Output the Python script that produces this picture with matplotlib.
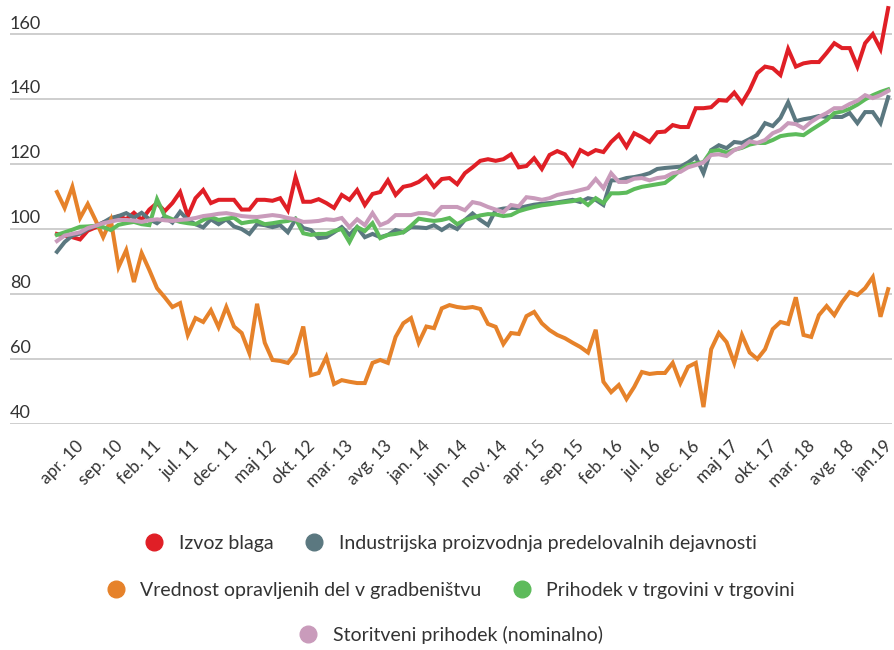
import matplotlib
matplotlib.use('Agg')
import matplotlib.pyplot as plt
from matplotlib.lines import Line2D
from matplotlib.transforms import ScaledTranslation
import numpy as np

plt.rcParams['font.family'] = ['Lato', 'DejaVu Sans']

# monthly index values, jan 2010 - jan 2019 (109 months), labels every 5th month from apr 2010
tick_labels = ['apr. 10', 'sep. 10', 'feb. 11', 'jul. 11', 'dec. 11', 'maj 12', 'okt. 12',
               'mar. 13', 'avg. 13', 'jan. 14', 'jun. 14', 'nov. 14', 'apr. 15', 'sep. 15',
               'feb. 16', 'jul. 16', 'dec. 16', 'maj 17', 'okt. 17', 'mar. 18', 'avg. 18', 'jan.19']

izvoz = [98.5, 98, 97.5, 96.8, 99.5, 100.5, 102, 102.8, 104, 103,
         105, 102.8, 106, 108, 105.5, 108, 111.4, 104, 109.5, 112,
         108, 109, 109, 109, 106, 106, 109, 109, 108.7, 109.5,
         105.8, 116, 108.4, 108.4, 109.2, 108, 106.5, 110.5, 109, 112,
         107.4, 110.8, 111.4, 115, 110.5, 113, 113.5, 114.5, 116.3, 113,
         115.4, 115.7, 113.8, 117.2, 119, 121, 121.5, 121, 121.5, 123,
         119, 119.4, 121.8, 118.5, 122.8, 124, 123, 119.7, 124.3, 123,
         124.3, 123.7, 126.8, 129, 125.3, 129.5, 128.3, 126.8, 129.8, 130,
         132, 131.4, 131.4, 137.2, 137.2, 137.5, 139.7, 139.5, 142, 138.8,
         142.8, 148, 150, 149.5, 147.4, 155.4, 150, 151, 151.4, 151.4,
         154.2, 157.2, 155.7, 155.7, 150, 157.2, 160, 155.4, 168]

industrija = [93, 96, 98, 98.6, 100, 101, 102, 103.4, 104, 104.9,
              103.5, 105, 103, 101.8, 103.7, 102, 105.3, 102.8, 101.5, 100.5,
              103, 101.5, 103, 100.8, 100, 98.5, 101.5, 101.2, 100.6, 101.2,
              99, 103, 100.3, 99.7, 97.2, 97.5, 99, 100.6, 98.2, 100.6,
              97.5, 98.5, 97.5, 98.2, 99.7, 99, 100.6, 100.5, 100.3, 101.2,
              99.7, 101.2, 100, 102.8, 104.8, 102.8, 101.2, 105.8, 106.3, 106.5,
              106.5, 107, 107.5, 107.8, 108, 108.2, 108.6, 109, 108.3, 109.5,
              109, 107.4, 115, 115, 115.7, 116, 116.5, 117.2, 118.5, 118.8,
              119, 119.2, 120.5, 122.2, 117.2, 124.3, 125.8, 124.9, 126.8, 126.5,
              127.7, 129, 132.6, 131.7, 134.2, 139, 133.2, 133.8, 134.2, 134.8,
              134.5, 134.5, 134.5, 135.7, 132.6, 136, 136, 132.6, 140.6]

gradbenistvo = [111.4, 106.5, 113, 103.4, 107.7, 102.8, 97.5, 102.8, 88.3, 93.5,
                83.7, 92.6, 87.4, 81.8, 79, 76, 77.2, 67.4, 72.6, 71.4,
                75, 69.8, 76, 70, 68, 61.8, 77, 65, 59.7, 59.4,
                58.8, 61.8, 70, 55, 55.7, 60.6, 52.3, 53.5, 53, 52.6,
                52.6, 58.8, 59.7, 58.8, 66.8, 71, 72.6, 65, 70, 69.5,
                75.6, 76.6, 76, 75.7, 76, 75.4, 70.8, 69.9, 64.6, 68,
                67.7, 73.2, 74.5, 71, 68.9, 67.4, 66.4, 65, 63.7, 62,
                69, 53, 49.8, 52, 47.7, 51.4, 56, 55.4, 55.7, 55.7,
                58.8, 52.6, 57.6, 58.8, 45.2, 63, 68, 65.2, 58.8, 67.4,
                62, 60, 63, 69.2, 71.4, 70.8, 79, 67.4, 66.8, 73.5,
                76.3, 73.5, 77.5, 80.6, 79.7, 81.8, 85.2, 73, 81.5]

trgovina = [98.2, 99, 99.8, 100.7, 100.8, 101, 100.6, 99.7, 101.3, 101.8,
            102.2, 101.5, 101.2, 109.2, 104, 103, 102.2, 101.8, 101.5, 102.8,
            103.7, 102.8, 103.2, 103.5, 101.8, 102.2, 102.5, 101.5, 101.8, 102.2,
            102.5, 103.2, 98.7, 98.2, 98.5, 98.5, 99.4, 100, 96, 100.6,
            99.4, 101.8, 97.2, 98.2, 98.5, 99, 101, 103.2, 102.8, 102.5,
            102.8, 103.4, 101.5, 102.8, 103.5, 104.2, 104.6, 104.5, 104, 104.3,
            105.5, 106.2, 106.8, 107.3, 107.6, 108, 108.3, 108.6, 109.2, 107.4,
            109.5, 108, 111, 111, 111.2, 112.3, 113, 113.4, 113.8, 114.2,
            116, 118.2, 119.7, 120.2, 120.6, 124, 124.3, 123.5, 124.4, 125,
            126, 126.5, 126.5, 127.4, 128.6, 129, 129.2, 128.9, 130.5, 132,
            133.5, 135.7, 136.2, 137, 138.3, 139.9, 141.2, 142.2, 143]

storitve = [96.3, 98, 98.5, 99, 100.3, 101, 101.8, 102.3, 102.8, 102.8,
            102.6, 102.2, 102.7, 103, 102.7, 102.5, 102.8, 103, 103.4, 104,
            104.3, 104.7, 104.9, 104.5, 104, 103.8, 103.7, 104, 104.3, 104,
            103.4, 103, 102.2, 102.3, 102.5, 103, 102.8, 103.4, 100.6, 103,
            101.2, 104.9, 101.2, 102.2, 104.3, 104.3, 104.3, 104.9, 104.9, 104.3,
            106.8, 106.8, 106.8, 105.8, 108.3, 107.8, 106.8, 106, 105.2, 107.4,
            107, 109.8, 109.5, 109, 109.5, 110.5, 111, 111.4, 112, 112.6,
            115.4, 112.6, 117.2, 114.5, 114.5, 115.5, 115.7, 115, 115.7, 116,
            117.2, 117.6, 119, 119.7, 120.5, 122.8, 123, 122.5, 124.3, 125.2,
            127, 126.5, 127.4, 129.5, 130.5, 132.6, 132.3, 131, 133, 134.5,
            135.7, 137.2, 137.2, 138.5, 139.5, 141.2, 140.3, 141.2, 142.5]

names = ['Izvoz blaga', 'Industrijska proizvodnja predelovalnih dejavnosti',
         'Vrednost opravljenih del v gradbeništvu', 'Prihodek v trgovini v trgovini',
         'Storitveni prihodek (nominalno)']
colors = ['#e01f26', '#5b7880', '#e6822a', '#5dbb5b', '#c99bbb']
series = [izvoz, industrija, gradbenistvo, trgovina, storitve]
yticks = [40, 60, 80, 100, 120, 140, 160]

fig = plt.figure(figsize=(8.94, 6.5), dpi=100)
ax = fig.add_axes([0.0112, 0.3477, 0.9866, 0.6523])
x = np.arange(len(izvoz))
for s, c in zip(series, colors):
    ax.plot(x, s, color=c, lw=2.9, solid_joinstyle='miter')

ax.set_xlim(-6.1, 108.5)
ax.set_ylim(40, 170.5)
for sp in ax.spines.values():
    sp.set_visible(False)
ax.set_yticks(yticks)
ax.yaxis.grid(True, color='#c6c6c6', lw=1.2)
ax.set_axisbelow(True)
ax.tick_params(axis='y', length=0, labelleft=False)
for v in yticks:
    ax.text(0.0, v + 0.8, str(v), transform=ax.get_yaxis_transform(),
            ha='left', va='bottom', fontsize=13, color='#333333')

ax.set_xticks(np.arange(3, len(izvoz), 5))
ax.set_xticklabels(tick_labels, rotation=45, ha='right', rotation_mode='anchor',
                   fontsize=12.5, color='#333333')
ax.tick_params(axis='x', length=0, pad=10)
shift = ScaledTranslation(-3 / 72, 0, fig.dpi_scale_trans)
for lab in ax.get_xticklabels():
    lab.set_transform(lab.get_transform() + shift)

def mk(c):
    return Line2D([], [], marker='o', ls='', color=c, markersize=12)

rows = [[0, 1], [2, 3], [4]]
row_y = [0.1646, 0.0923, 0.023]
for r, yy in zip(rows, row_y):
    fig.legend([mk(colors[k]) for k in r], [names[k] for k in r], loc='center',
               bbox_to_anchor=(0.504, yy), ncol=len(r), frameon=False, fontsize=14,
               handlelength=1.0, handletextpad=0.75, columnspacing=1.6,
               labelcolor='#333333')

fig.savefig('out.png', dpi=100)
